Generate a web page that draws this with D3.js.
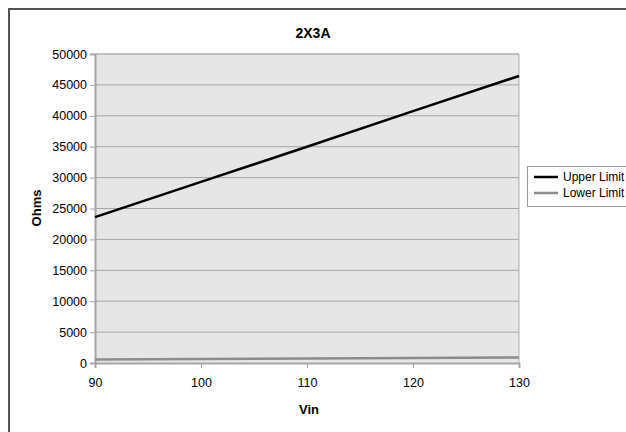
<!DOCTYPE html>
<html><head><meta charset="utf-8">
<script src="https://cdn.jsdelivr.net/npm/d3@7"></script>
<style>body{margin:0;background:#fff}svg{display:block}text{font-family:"Liberation Sans",Arial,sans-serif}</style>
</head><body><svg id="c" width="626" height="432"></svg>
<script>
const vin = [90, 100, 110, 120, 130];
const upperLimit = [23600, 29300, 35000, 40750, 46450];
const lowerLimit = [580, 660, 740, 820, 900];
const seriesNames = ["Upper Limit", "Lower Limit"];
const seriesColors = ["#000000", "#8c8c8c"];
const yTicks = [0,5000,10000,15000,20000,25000,30000,35000,40000,45000,50000];
const xTicks = [90,100,110,120,130];

const svg = d3.select("#c");
const m = {l:95, r:519, t:54, b:363};
const x = d3.scaleLinear().domain([90,130]).range([m.l, m.r]);
const y = d3.scaleLinear().domain([0,50000]).range([m.b, m.t]);

// outer border
svg.append("rect").attr("x",9).attr("y",9).attr("width",640).attr("height",440)
  .attr("fill","none").attr("stroke","#555").attr("stroke-width",2);

// plot background
svg.append("rect").attr("x",m.l).attr("y",m.t).attr("width",m.r-m.l).attr("height",m.b-m.t)
  .attr("fill","#e6e6e7");

// gridlines
svg.append("g").selectAll("line").data(yTicks.filter(d=>d>0)).join("line")
  .attr("x1",m.l).attr("x2",m.r).attr("y1",d=>y(d)).attr("y2",d=>y(d))
  .attr("stroke","#a6a6a6").attr("stroke-width",1);
// plot borders
svg.append("line").attr("x1",m.r).attr("x2",m.r).attr("y1",m.t).attr("y2",m.b).attr("stroke","#b0b0b0");
svg.append("line").attr("x1",m.l).attr("x2",m.r).attr("y1",m.t).attr("y2",m.t).attr("stroke","#b0b0b0");

// axes
const yAxis = d3.axisLeft(y).tickValues(yTicks).tickSize(5).tickPadding(3).tickFormat(d3.format("d"));
const gy = svg.append("g").attr("transform",`translate(${m.l},0)`).call(yAxis);
const xAxis = d3.axisBottom(x).tickValues(xTicks).tickSize(5).tickPadding(10);
const gx = svg.append("g").attr("transform",`translate(0,${m.b})`).call(xAxis);
[gy,gx].forEach(g=>{
  g.select(".domain").attr("stroke","#a6a6a6").attr("stroke-width",2);
  g.selectAll(".tick line").attr("stroke","#a6a6a6");
  g.selectAll(".tick text").attr("fill","#000").style("font-size","12.5px").style("font-family","'Liberation Sans',Arial,sans-serif");
});

// lines
const data = [upperLimit, lowerLimit];
const line = d3.line().x((d,i)=>x(vin[i])).y(d=>y(d));
svg.append("g").selectAll("path").data(data).join("path")
  .attr("d",line).attr("fill","none")
  .attr("stroke",(d,i)=>seriesColors[i]).attr("stroke-width",2.5);

// title
svg.append("text").attr("x",313).attr("y",38).attr("text-anchor","middle")
  .style("font-size","14px").style("font-weight","bold").text("2X3A");
svg.append("text").attr("transform","translate(41,208) rotate(-90)").attr("text-anchor","middle")
  .style("font-size","13px").style("font-weight","bold").text("Ohms");
svg.append("text").attr("x",309).attr("y",414).attr("text-anchor","middle")
  .style("font-size","13px").style("font-weight","bold").text("Vin");

// legend
const lg = svg.append("g");
lg.append("rect").attr("x",527.5).attr("y",166.5).attr("width",120).attr("height",40)
  .attr("fill","#fff").attr("stroke","#999");
const li = lg.selectAll("g").data(seriesNames).join("g")
  .attr("transform",(d,i)=>`translate(0,${177+i*16})`);
li.append("line").attr("x1",534).attr("x2",558).attr("y1",0).attr("y2",0)
  .attr("stroke",(d,i)=>seriesColors[i]).attr("stroke-width",2.5);
li.append("text").attr("x",563).attr("y",4).style("font-size","12px").text(d=>d);
</script></body></html>
